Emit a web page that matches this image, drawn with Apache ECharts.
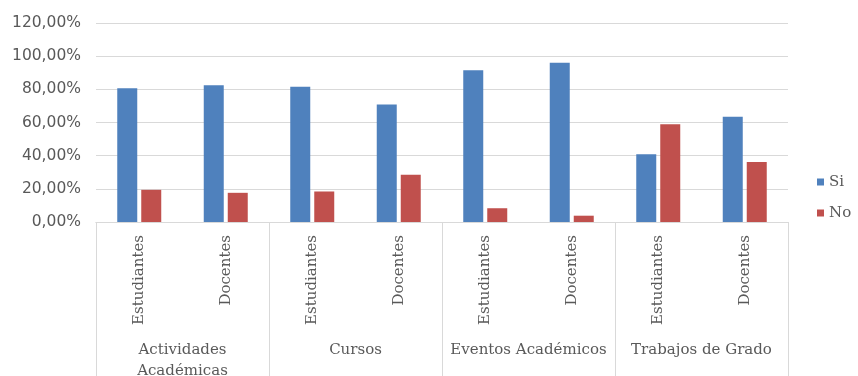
<!DOCTYPE html>
<html><head><meta charset="utf-8">
<script src="https://cdn.jsdelivr.net/npm/echarts@6/dist/echarts.min.js"></script>
<style>html,body{margin:0;padding:0;background:#fff}#c{width:858px;height:376px}</style>
</head><body><div id="c"></div>
<script>
const subCategories = ["Estudiantes","Docentes","Estudiantes","Docentes","Estudiantes","Docentes","Estudiantes","Docentes"];
const groups = ["Actividades\nAcadémicas","Cursos","Eventos Académicos","Trabajos de Grado"];
const siValues = [80.6, 82.4, 81.6, 70.8, 91.5, 96.0, 40.9, 63.5];
const noValues = [19.4, 17.6, 18.4, 28.5, 8.3, 3.8, 59.0, 36.2];
const yTicks = [0, 20, 40, 60, 80, 100, 120];

const grey = '#595959', line = '#d9d9d9';
const chart = echarts.init(document.getElementById('c'), null, {renderer:'canvas'});
chart.setOption({
  animation:false,
  grid:{left:96, right:70, top:23, bottom:154, containLabel:false, outerBoundsMode:'none'},
  legend:{orient:'vertical', left:812, top:169, itemWidth:7, itemHeight:7, itemGap:15,
    icon:'rect', textStyle:{fontFamily:'DejaVu Serif', fontSize:15, color:grey, lineHeight:16},
    data:['Si','No']},
  xAxis:[
    {type:'category', data:subCategories, position:'bottom',
     axisLine:{show:true, lineStyle:{color:line}}, axisTick:{show:false},
     axisLabel:{rotate:90, margin:13, interval:0, fontFamily:'DejaVu Serif', fontSize:15, color:grey}},
    {type:'category', data:groups, position:'bottom',
     axisLine:{show:true, lineStyle:{color:line}},
     axisTick:{show:true, interval:0, length:160, lineStyle:{color:line}},
     axisLabel:{margin:118, interval:0, fontFamily:'DejaVu Serif', fontSize:15, color:grey, lineHeight:21, verticalAlign:'top'}}
  ],
  yAxis:{type:'value', min:yTicks[0], max:yTicks[yTicks.length-1], interval:20,
    axisLine:{show:false}, axisTick:{show:false},
    splitLine:{lineStyle:{color:line}},
    axisLabel:{margin:15, fontFamily:'DejaVu Sans', fontSize:15.5, color:grey,
      formatter:v=>v.toFixed(2).replace('.',',')+'%'}},
  series:[
    {name:'Si', type:'bar', xAxisIndex:0, data:siValues, barWidth:20, barGap:'20%', itemStyle:{color:'#4f81bd'}},
    {name:'No', type:'bar', xAxisIndex:0, data:noValues, barWidth:20, barGap:'20%', itemStyle:{color:'#c0504d'}}
  ]
});
</script></body></html>
